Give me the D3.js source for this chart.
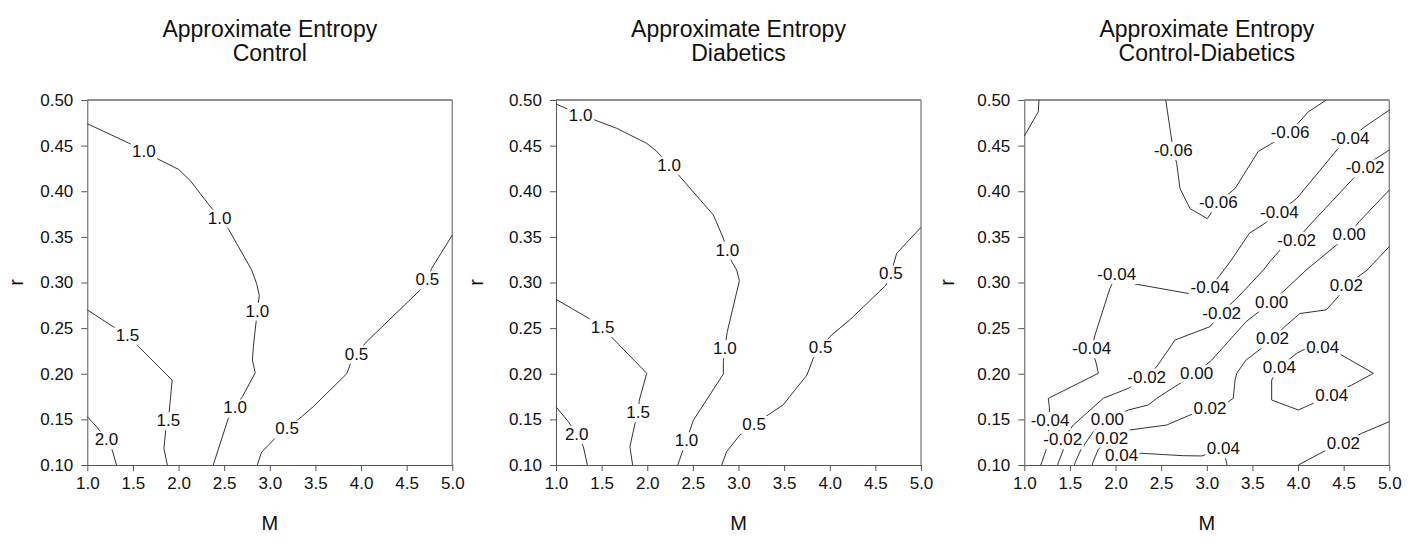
<!DOCTYPE html>
<html>
<head>
<meta charset="utf-8">
<script src="https://cdn.jsdelivr.net/npm/d3@7"></script>
<style>
  body { margin: 0; background: #fff; }
  text { font-family: Arial, "Liberation Sans", sans-serif; }
</style>
</head>
<body>
<svg id="chart" width="1414" height="548"></svg>
<script>
// axis ticks
const mTicks = [1.0, 1.5, 2.0, 2.5, 3.0, 3.5, 4.0, 4.5, 5.0];
const rTicks = [0.1, 0.15, 0.2, 0.25, 0.3, 0.35, 0.4, 0.45, 0.5];

const titles = [
  ["Approximate Entropy", "Control"],
  ["Approximate Entropy", "Diabetics"],
  ["Approximate Entropy", "Control-Diabetics"],
];

// contour lines, [M, r]
const controlLines = [
  [[1.0, 0.474], [1.45, 0.453], [1.62, 0.444], [1.74, 0.437], [2.0, 0.424], [2.125, 0.412], [2.35, 0.383], [2.45, 0.371], [2.55, 0.358], [2.8, 0.314], [2.855, 0.299], [2.885, 0.286], [2.863, 0.269], [2.85, 0.257], [2.82, 0.23], [2.81, 0.215], [2.84, 0.201], [2.7, 0.175], [2.62, 0.163], [2.545, 0.151], [2.38, 0.1]],
  [[1.0, 0.27], [1.285, 0.2515], [1.44, 0.242], [1.54, 0.232], [1.93, 0.193], [1.906, 0.167], [1.888, 0.149], [1.859, 0.138], [1.84, 0.118], [1.877, 0.1]],
  [[1.0, 0.153], [1.11, 0.141], [1.21, 0.128], [1.274, 0.116], [1.32, 0.1]],
  [[2.863, 0.1], [2.91, 0.114], [3.075, 0.131], [3.19, 0.14], [3.35, 0.153], [3.477, 0.164], [3.843, 0.2], [3.886, 0.2115], [3.95, 0.222], [4.06, 0.235], [4.65, 0.292], [4.726, 0.3035], [4.774, 0.3155], [5.0, 0.352]],
];
const controlLabels = [
  ["1.0", 1.62, 0.444], ["1.0", 2.45, 0.371], ["1.0", 2.863, 0.269], ["1.0", 2.62, 0.163],
  ["1.5", 1.44, 0.242], ["1.5", 1.888, 0.149],
  ["2.0", 1.21, 0.128],
  ["0.5", 3.19, 0.14], ["0.5", 3.95, 0.222], ["0.5", 4.726, 0.3035],
];

const diabeticsLines = [
  [[1.0, 0.4956], [1.27, 0.484], [1.427, 0.478], [1.665, 0.469], [1.994, 0.4525], [2.096, 0.4445], [2.24, 0.429], [2.35, 0.417], [2.724, 0.374], [2.827, 0.35], [2.877, 0.336], [2.925, 0.323], [2.98, 0.3137], [3.01, 0.302], [2.877, 0.246], [2.85, 0.228], [2.834, 0.2133], [2.834, 0.1997], [2.505, 0.149], [2.43, 0.127], [2.38, 0.113], [2.334, 0.1]],
  [[1.0, 0.2816], [1.354, 0.261], [1.51, 0.251], [1.62, 0.239], [1.994, 0.2005], [1.913, 0.171], [1.9, 0.158], [1.866, 0.1456], [1.81, 0.12], [1.84, 0.1]],
  [[1.0, 0.1638], [1.135, 0.1475], [1.227, 0.134], [1.3, 0.12], [1.344, 0.1]],
  [[2.816, 0.1], [2.87, 0.1146], [3.016, 0.133], [3.17, 0.145], [3.327, 0.155], [3.49, 0.166], [3.75, 0.1986], [3.82, 0.217], [3.9, 0.229], [4.02, 0.2425], [4.22, 0.259], [4.616, 0.297], [4.67, 0.31], [4.734, 0.332], [5.0, 0.3605]],
];
const diabeticsLabels = [
  ["1.0", 1.27, 0.484], ["1.0", 2.24, 0.429], ["1.0", 2.877, 0.336], ["1.0", 2.85, 0.228], ["1.0", 2.43, 0.127],
  ["1.5", 1.51, 0.251], ["1.5", 1.9, 0.158],
  ["2.0", 1.227, 0.134],
  ["0.5", 3.17, 0.145], ["0.5", 3.9, 0.229], ["0.5", 4.67, 0.31],
];

const diffLines = [
  [[1.0, 0.4605], [1.153, 0.487], [1.161, 0.5]],
  // -0.06
  [[2.55, 0.5], [2.604, 0.4635], [2.633, 0.4452], [2.67, 0.4306], [2.706, 0.403], [2.816, 0.381], [3.005, 0.37], [3.126, 0.3877], [3.31, 0.403], [3.564, 0.4437], [3.69, 0.451], [3.912, 0.4646], [4.112, 0.487], [4.31, 0.5]],
  // -0.04
  [[5.0, 0.489], [4.734, 0.4708], [4.57, 0.458], [4.44, 0.447], [3.985, 0.392], [3.795, 0.3777], [3.638, 0.365], [3.466, 0.354], [3.27, 0.3247], [3.145, 0.308], [3.035, 0.2947], [2.797, 0.288], [2.213, 0.2984], [2.013, 0.3093], [1.939, 0.2937], [1.775, 0.2425], [1.739, 0.2279], [1.793, 0.2096], [1.811, 0.2005], [1.263, 0.173], [1.274, 0.164], [1.282, 0.1493], [1.238, 0.1164], [1.19, 0.1025], [1.18, 0.1]],
  // -0.02
  [[5.0, 0.4452], [4.825, 0.434], [4.734, 0.426], [4.605, 0.414], [4.112, 0.3612], [3.985, 0.3465], [3.82, 0.3375], [3.693, 0.323], [3.62, 0.3137], [3.364, 0.2863], [3.163, 0.2669], [3.035, 0.2516], [2.652, 0.237], [2.451, 0.2077], [2.341, 0.1968], [2.14, 0.184], [1.866, 0.1731], [1.537, 0.1438], [1.421, 0.1282], [1.427, 0.1164], [1.373, 0.1025], [1.365, 0.1]],
  // 0.00
  [[5.0, 0.4014], [4.67, 0.3667], [4.56, 0.353], [4.42, 0.341], [4.09, 0.3137], [3.857, 0.2918], [3.71, 0.279], [3.43, 0.257], [3.054, 0.215], [2.889, 0.2011], [2.706, 0.1895], [2.451, 0.173], [2.359, 0.1658], [2.14, 0.1603], [1.91, 0.15], [1.756, 0.1365], [1.618, 0.1164], [1.556, 0.1025], [1.55, 0.1]],
  // 0.02
  [[5.0, 0.3393], [4.75, 0.313], [4.53, 0.297], [4.44, 0.2845], [4.31, 0.27], [4.02, 0.266], [3.857, 0.2518], [3.72, 0.2388], [3.6, 0.228], [3.43, 0.215], [3.328, 0.2005], [3.31, 0.1932], [3.29, 0.173], [3.236, 0.1694], [3.035, 0.162], [2.816, 0.1548], [2.56, 0.1438], [2.158, 0.1384], [1.958, 0.13], [1.811, 0.1172], [1.75, 0.1025], [1.745, 0.1]],
  // 0.04 closed loop
  [[4.27, 0.2297], [4.478, 0.2205], [4.825, 0.2005], [4.588, 0.1876], [4.369, 0.1767], [4.167, 0.1676], [4.003, 0.1603], [3.711, 0.1712], [3.711, 0.1932], [3.795, 0.207], [3.985, 0.2224], [4.095, 0.2279], [4.27, 0.2297]],
  // 0.04 along the bottom
  [[1.98, 0.1], [2.067, 0.111], [2.287, 0.1128], [2.742, 0.1102], [2.944, 0.1099], [3.181, 0.1183], [3.21, 0.1055], [3.218, 0.1018], [3.22, 0.1]],
  // 0.02 bottom right
  [[4.003, 0.1], [4.277, 0.1146], [4.496, 0.1238], [4.697, 0.1347], [5.0, 0.1475]],
];
const diffLabels = [
  ["-0.06", 2.633, 0.4452], ["-0.06", 3.126, 0.3877], ["-0.06", 3.912, 0.4646],
  ["-0.04", 4.57, 0.458], ["-0.04", 3.795, 0.3777], ["-0.04", 3.035, 0.2947], ["-0.04", 2.013, 0.3093], ["-0.04", 1.739, 0.2279], ["-0.04", 1.282, 0.1493],
  ["-0.02", 4.734, 0.426], ["-0.02", 3.985, 0.3465], ["-0.02", 3.163, 0.2669], ["-0.02", 2.341, 0.1968], ["-0.02", 1.421, 0.1282],
  ["0.00", 4.56, 0.353], ["0.00", 3.71, 0.279], ["0.00", 2.889, 0.2011], ["0.00", 1.91, 0.15],
  ["0.02", 4.53, 0.297], ["0.02", 3.72, 0.2388], ["0.02", 3.035, 0.162], ["0.02", 1.958, 0.13], ["0.02", 4.496, 0.1238],
  ["0.04", 4.27, 0.2297], ["0.04", 4.369, 0.1767], ["0.04", 3.795, 0.207], ["0.04", 2.067, 0.111], ["0.04", 3.181, 0.1183],
];

const size = 365;
const plotTop = 100;
const panels = [
  { left: 87.3, rX: 16, lines: controlLines, labels: controlLabels },
  { left: 556, rX: 476, lines: diabeticsLines, labels: diabeticsLabels },
  { left: 1024.3, rX: 947, lines: diffLines, labels: diffLabels },
];

const svg = d3.select("#chart");

let x = d3.scaleLinear().domain([1, 5]).range([0, size]);
let y = d3.scaleLinear().domain([0.1, 0.5]).range([size, 0]);

let line = d3.line()
  .x((d) => x(d[0]))
  .y((d) => y(d[1]));

panels.forEach((p, i) => {
  let g = svg.append("g").attr("transform", `translate(${p.left}, ${plotTop})`);

  // titles
  titles[i].forEach((t, k) => {
    svg.append("text")
      .attr("x", p.left + size / 2)
      .attr("y", 37 + k * 24)
      .attr("text-anchor", "middle")
      .attr("font-size", 23)
      .attr("fill", "#111")
      .text(t);
  });

  let ax = g.append("g")
    .attr("transform", `translate(0, ${size})`)
    .call(d3.axisBottom(x).tickValues(mTicks).tickFormat(d3.format(".1f"))
      .tickSize(6).tickPadding(6).tickSizeOuter(0));
  let ay = g.append("g")
    .call(d3.axisLeft(y).tickValues(rTicks).tickFormat(d3.format(".2f"))
      .tickSize(6).tickPadding(8).tickSizeOuter(0));

  [ax, ay].forEach((a) => {
    a.select(".domain").attr("stroke", "#555");
    a.selectAll(".tick line").attr("stroke", "#555");
    a.selectAll(".tick text").attr("font-size", 17).attr("fill", "#111")
      .attr("font-family", "Arial, 'Liberation Sans', sans-serif");
  });

  // box top and right
  g.append("line")
    .attr("x1", x(1)).attr("x2", x(5)).attr("y1", y(0.5)).attr("y2", y(0.5))
    .attr("stroke", "#222");
  g.append("line")
    .attr("x1", x(5)).attr("x2", x(5)).attr("y1", y(0.5)).attr("y2", y(0.1))
    .attr("stroke", "#888").attr("stroke-width", 1.4);

  // axis titles
  svg.append("text")
    .attr("x", p.left + size / 2)
    .attr("y", 530)
    .attr("text-anchor", "middle")
    .attr("font-size", 20)
    .attr("fill", "#111")
    .text("M");
  svg.append("text")
    .attr("transform", `translate(${p.rX + 7}, ${plotTop + size / 2}) rotate(-90)`)
    .attr("text-anchor", "middle")
    .attr("font-size", 20)
    .attr("fill", "#111")
    .text("r");

  // contours
  g.selectAll("path.contour")
    .data(p.lines)
    .enter()
    .append("path")
    .attr("class", "contour")
    .attr("d", line)
    .attr("fill", "none")
    .attr("stroke", "#333")
    .attr("stroke-width", 1);

  // labels with white boxes that break the lines
  let lab = g.selectAll("g.lab")
    .data(p.labels)
    .enter()
    .append("g")
    .attr("class", "lab")
    .attr("transform", (d) => `translate(${x(d[1])}, ${y(d[2])})`);

  lab.append("text")
    .text((d) => d[0])
    .attr("text-anchor", "middle")
    .attr("dy", "0.35em")
    .attr("font-size", 17)
    .attr("fill", "#111");

  lab.each(function () {
    let t = d3.select(this).select("text");
    let b = t.node().getBBox();
    d3.select(this).insert("rect", "text")
      .attr("x", b.x - 1.5)
      .attr("y", b.y + 1)
      .attr("width", b.width + 3)
      .attr("height", b.height - 1)
      .attr("fill", "#fff");
  });
});
</script>
</body>
</html>
